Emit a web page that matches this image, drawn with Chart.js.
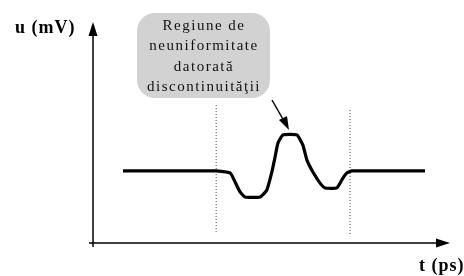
<!DOCTYPE html>
<html>
<head>
<meta charset="utf-8">
<script src="https://cdn.jsdelivr.net/npm/chart.js@4/dist/chart.umd.min.js"></script>
<style>
  html, body { margin: 0; padding: 0; background: #fff; }
  canvas { display: block; }
</style>
</head>
<body>
<canvas id="myChart" width="464" height="276"></canvas>
<script>
// signal u(t), arbitrary units on 0..100 scales
const timePs = [8.4, 34.5, 38.4, 39.8, 41.2, 42.6, 46.8, 48.7, 50.1, 51.0, 51.8, 53.2, 57.1, 58.8, 59.9, 61.6, 63.6, 65.0, 68.3, 70.0, 71.1, 72.5, 93.0];
const voltageMv = [32.6, 32.6, 31.7, 27.6, 23.1, 20.8, 20.8, 24.0, 32.1, 38.9, 45.2, 48.9, 48.9, 44.3, 37.6, 32.1, 27.1, 24.9, 24.9, 29.4, 31.7, 32.6, 32.6];

// dotted boundaries of the discontinuity region
const boundaryTimes = [34.5, 72.0];
const boundaryTop = [62.4, 60.2];
const boundaryBottom = [5.0, 3.6];

const calloutLines = ["Regiune de", "neuniformitate", "datorată", "discontinuităţii"];
const yAxisLabel = "u (mV)";
const xAxisLabel = "t (ps)";

const datasets = [
  {
    data: timePs.map((t, i) => ({ x: t, y: voltageMv[i] })),
    borderColor: "#000",
    borderWidth: 3.2,
    pointRadius: 0,
    tension: 0.15,
    order: 0,
  },
];
boundaryTimes.forEach((t, i) => {
  datasets.push({
    data: [{ x: t, y: boundaryTop[i] }, { x: t, y: boundaryBottom[i] }],
    borderColor: "#444",
    borderWidth: 1,
    borderDash: [1, 2],
    pointRadius: 0,
    order: 1,
  });
});

const decorations = {
  id: "decorations",
  afterDraw(chart) {
    const ctx = chart.ctx;
    const a = chart.chartArea;
    ctx.save();
    ctx.strokeStyle = "#000";
    ctx.fillStyle = "#000";
    ctx.lineWidth = 1.5;

    // axes
    ctx.beginPath();
    ctx.moveTo(a.left, a.top + 8);
    ctx.lineTo(a.left, a.bottom + 4);
    ctx.moveTo(a.left - 4, a.bottom);
    ctx.lineTo(a.right - 8, a.bottom);
    ctx.stroke();
    // arrow heads
    ctx.beginPath();
    ctx.moveTo(a.left, a.top);
    ctx.lineTo(a.left - 4.5, a.top + 14);
    ctx.lineTo(a.left + 4.5, a.top + 14);
    ctx.closePath();
    ctx.fill();
    ctx.beginPath();
    ctx.moveTo(a.right, a.bottom);
    ctx.lineTo(a.right - 14, a.bottom - 4.5);
    ctx.lineTo(a.right - 14, a.bottom + 4.5);
    ctx.closePath();
    ctx.fill();

    // axis labels
    ctx.font = "bold 18px 'Liberation Serif'";
    ctx.letterSpacing = "1px";
    ctx.textBaseline = "middle";
    ctx.textAlign = "left";
    ctx.fillText(yAxisLabel, 15, 28);
    ctx.fillText(xAxisLabel, 419, 266);

    // callout box
    ctx.fillStyle = "#d2d2d2";
    ctx.beginPath();
    ctx.roundRect(137, 13, 133, 85, 18);
    ctx.fill();
    ctx.fillStyle = "#111";
    ctx.font = "15px 'Liberation Serif'";
    ctx.letterSpacing = "1.5px";
    ctx.textAlign = "center";
    calloutLines.forEach((line, i) => {
      ctx.fillText(line, 204, 26 + i * 20.5);
    });

    // pointer arrow to the peak
    ctx.lineWidth = 1.5;
    ctx.beginPath();
    ctx.moveTo(272, 100);
    ctx.lineTo(284, 121);
    ctx.stroke();
    ctx.beginPath();
    ctx.moveTo(289, 130);
    ctx.lineTo(279, 120);
    ctx.lineTo(287, 116);
    ctx.closePath();
    ctx.fillStyle = "#000";
    ctx.fill();
    ctx.restore();
  },
};

new Chart(document.getElementById("myChart").getContext("2d"), {
  type: "line",
  data: { datasets },
  options: {
    responsive: false,
    animation: false,
    layout: { padding: { left: 93, right: 14, top: 22, bottom: 33 } },
    plugins: { legend: { display: false }, tooltip: { enabled: false } },
    scales: {
      x: { type: "linear", min: 0, max: 100, display: false },
      y: { min: 0, max: 100, display: false },
    },
  },
  plugins: [decorations],
});
</script>
</body>
</html>
